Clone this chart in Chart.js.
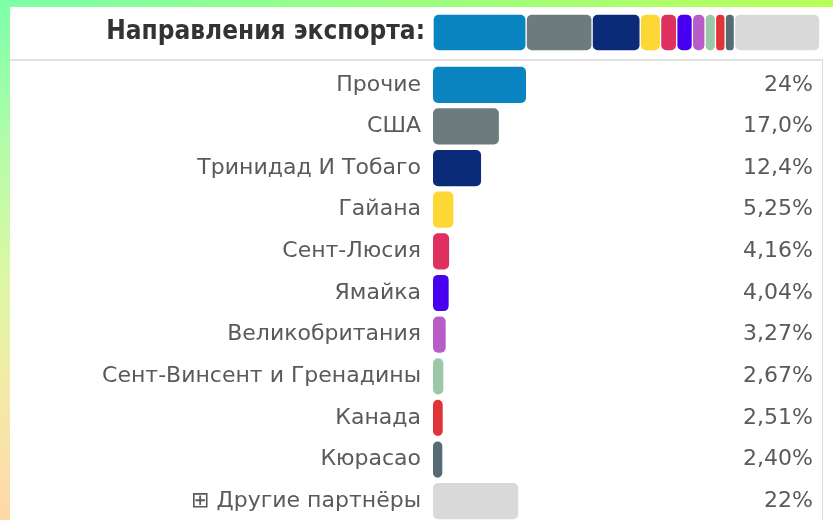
<!DOCTYPE html>
<html><head><meta charset="utf-8">
<script src="https://cdn.jsdelivr.net/npm/chart.js@4"></script>
<style>
html,body{margin:0;padding:0}
body{width:833px;height:520px;overflow:hidden;position:relative;background:#fff}
#lstrip{position:absolute;left:0;top:0;width:10px;height:520px;background:linear-gradient(180deg,#7dffa8 0%,#b6fca8 30%,#dff8a4 55%,#f4eaa8 75%,#ffd8a8 100%)}
#tstrip{position:absolute;left:0;top:0;width:833px;height:7px;background:linear-gradient(90deg,#7dffa8 0%,#9cff80 50%,#b8ff58 100%)}
#panel{position:absolute;left:10px;top:59px;width:812px;height:470px;border-top:2px solid #e2e2e2;border-right:1px solid #dcdcdc}
#c1wrap{position:absolute;left:10px;top:7px;width:815px;height:51px}
#c2wrap{position:absolute;left:10px;top:60px;width:815px;height:462px}
</style></head>
<body>
<div id="lstrip"></div><div id="tstrip"></div><div id="panel"></div>
<div id="c1wrap"><canvas id="c1"></canvas></div>
<div id="c2wrap"><canvas id="c2"></canvas></div>
<script>
const titleLabel = 'Направления экспорта:';
const categories = ['Прочие','США','Тринидад И Тобаго','Гайана','Сент-Люсия','Ямайка','Великобритания','Сент-Винсент и Гренадины','Канада','Кюрасао','⊞ Другие партнёры'];
const values = [24, 17.0, 12.4, 5.25, 4.16, 4.04, 3.27, 2.67, 2.51, 2.40, 22];
const pctLabels = ['24%','17,0%','12,4%','5,25%','4,16%','4,04%','3,27%','2,67%','2,51%','2,40%','22%'];
const colors = ['#0a84c0','#6e7b7e','#0b2a78','#fdd835','#e0305f','#4a00f0','#b85cc8','#9cc8a8','#e03538','#566b73','#d9d9d9'];

Chart.defaults.animation = false;
Chart.defaults.font.family = '"DejaVu Sans", sans-serif';

const noPad = s => { s.paddingTop = 0; s.paddingBottom = 0; };
const allCorners = { topLeft: 6, topRight: 6, bottomLeft: 6, bottomRight: 6 };

new Chart(document.getElementById('c1'), {
  type: 'bar',
  data: {
    labels: [titleLabel],
    datasets: values.map((v, i) => ({
      label: categories[i], data: [v], backgroundColor: colors[i],
      borderColor: '#ffffff', borderWidth: 1, borderSkipped: false, borderRadius: allCorners,
      barThickness: 37, clip: false
    }))
  },
  options: {
    indexAxis: 'y', responsive: true, maintainAspectRatio: false,
    layout: { padding: { right: 4, top: 0, bottom: 0, left: 0 } },
    plugins: { legend: { display: false }, tooltip: { enabled: false } },
    scales: {
      x: { stacked: true, display: false, min: 0, max: 100 },
      y: { stacked: true, grid: { display: false, drawTicks: false }, border: { display: false },
           ticks: { padding: 8, color: '#333', font: { family: '"Liberation Sans Narrow","DejaVu Sans Condensed",sans-serif', size: 26, weight: 'bold' } },
           afterFit: s => { s.width = 423; noPad(s); } }
    }
  }
});

new Chart(document.getElementById('c2'), {
  type: 'bar',
  data: {
    labels: categories,
    datasets: [{ data: values, backgroundColor: colors, borderRadius: 5, borderSkipped: false,
                 categoryPercentage: 1, barPercentage: 0.87, yAxisID: 'y', clip: false }]
  },
  options: {
    indexAxis: 'y', responsive: true, maintainAspectRatio: false,
    layout: { padding: { right: 12, top: 4, bottom: 0, left: 0 } },
    plugins: { legend: { display: false }, tooltip: { enabled: false } },
    scales: {
      x: { display: false, min: 0, max: 80 },
      y: { grid: { display: false, drawTicks: false }, border: { display: false },
           ticks: { padding: 12, color: '#5a5a5a', font: { size: 22 } },
           afterFit: s => { s.width = 423; noPad(s); } },
      y2: { type: 'category', labels: pctLabels, position: 'right', offset: true,
            grid: { display: false, drawTicks: false }, border: { display: false },
            ticks: { crossAlign: 'far', padding: 0, color: '#5a5a5a', font: { size: 22 } },
            afterFit: s => { s.width = 70; noPad(s); } }
    }
  }
});
</script>
</body></html>
